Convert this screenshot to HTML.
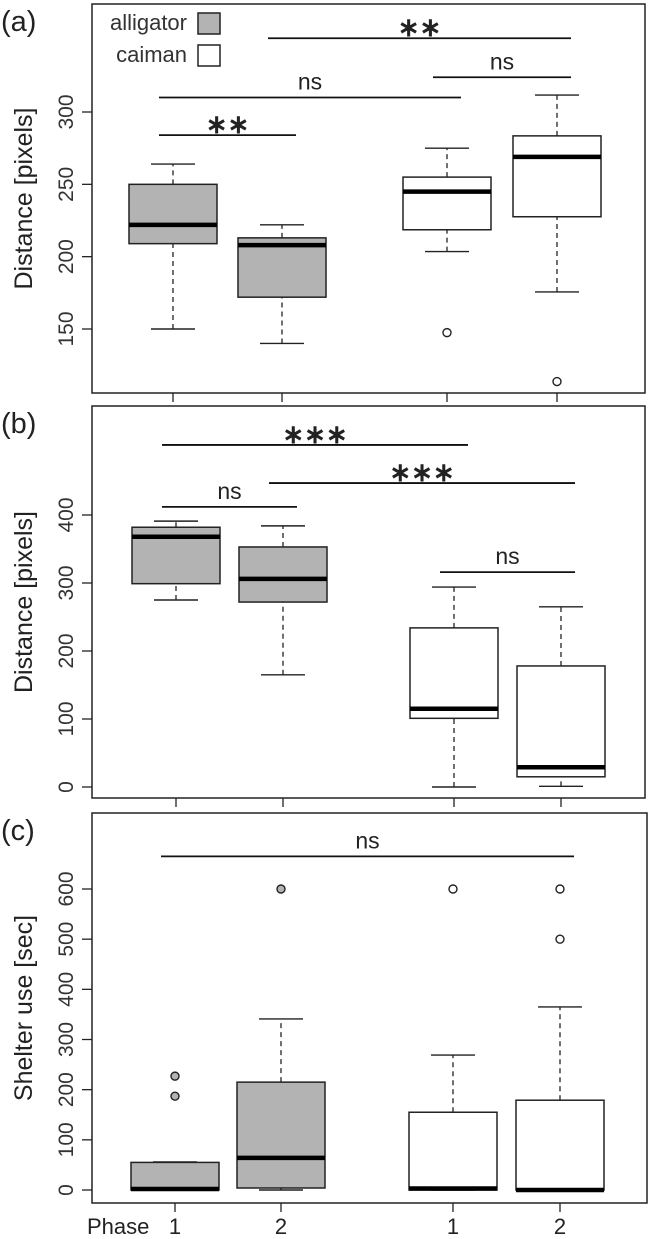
<!DOCTYPE html>
<html><head><meta charset="utf-8"><style>
html,body{margin:0;padding:0;background:#fff;}
svg{display:block;font-family:"Liberation Sans",Arial,sans-serif;}
</style></head><body>
<svg id="chart" width="649" height="1239" viewBox="0 0 649 1239" xmlns="http://www.w3.org/2000/svg"></svg>
<script>
const groupLabels = ["1","2","1","2"];
const groupFill = ["#b3b3b3","#b3b3b3","#ffffff","#ffffff"];
// panel a: [lowerWhisker, Q1, median, Q3, upperWhisker]
const statsA = [[150,209,222,250,264],[140,172,208,213,222],[203.5,218.6,245,255,275],[175.6,227.6,269,283.5,311.7]];
const outliersA = [[],[],[147.5],[113.7]];
const ticksA = [150,200,250,300];
const statsB = [[275,299,368,382,391],[165,272,306,353,384],[0,101,115,234,294],[1,15,29,178,265]];
const outliersB = [[],[],[],[]];
const ticksB = [0,100,200,300,400];
const statsC = [[0,0,2,55,56],[0,4,64,215,341],[0,0,3,155,269],[0,0,0,179,365]];
const outliersC = [[187,227],[600],[600],[600,500]];
const ticksC = [0,100,200,300,400,500,600];
// significance bars: [fromGroup, toGroup, value, label]
const sigA = [[1,3,351,"**"],[0,2,310,"ns"],[2,3,324,"ns"],[0,1,284,"**"]];
const sigB = [[0,2,503,"***"],[1,3,447,"***"],[0,1,412,"ns"],[2,3,316,"ns"]];
const sigC = [[0,3,665,"ns"]];

const NS="http://www.w3.org/2000/svg";
const svg=document.getElementById('chart');
function mk(tag,attrs,parent){const e=document.createElementNS(NS,tag);for(const k in attrs)e.setAttribute(k,attrs[k]);(parent||svg).appendChild(e);return e;}

const panels=[
 {id:"a",label:"(a)",top:4,bottom:393,v0:150,y0:329,v1:300,y1:112,stats:statsA,out:outliersA,ticks:ticksA,sig:sigA,cx:[173,282,447,557],title:"Distance [pixels]",legend:true,right:645},
 {id:"b",label:"(b)",top:406,bottom:798,v0:0,y0:787,v1:400,y1:515,stats:statsB,out:outliersB,ticks:ticksB,sig:sigB,cx:[176,283,454,561],title:"Distance [pixels]",right:645},
 {id:"c",label:"(c)",top:813,bottom:1203,v0:0,y0:1190,v1:600,y1:889,stats:statsC,out:outliersC,ticks:ticksC,sig:sigC,cx:[175,281,453,560],title:"Shelter use [sec]",phase:true,right:647}
];
const left=92, halfBox=44, halfCap=22;

panels.forEach(p=>{
  const g=mk('g',{});
  
  
  const y=v=>p.y0+(v-p.v0)*(p.y1-p.y0)/(p.v1-p.v0);
  const fr=mk('rect',{x:left,y:p.top,width:p.right-left,height:p.bottom-p.top,fill:'none',stroke:'#222','stroke-width':1.5},g);
  
  
  const pl=mk('text',{x:1,y:p.top+27,'font-size':29,fill:'#222'},g);pl.textContent=p.label;
  
  
  p.ticks.forEach(t=>{
    const ty=y(t);
    mk('line',{x1:left-10,x2:left,y1:ty,y2:ty,stroke:'#222','stroke-width':1.3},g);
    const tl=mk('text',{x:0,y:0,transform:`translate(73,${ty}) rotate(-90)`,'text-anchor':'middle','font-size':21,fill:'#333'},g);
    tl.textContent=t;
    
    
  });
  const yt=mk('text',{transform:`translate(32,${(p.top+p.bottom)/2}) rotate(-90)`,'text-anchor':'middle','font-size':25,fill:'#222'},g);
  yt.textContent=p.title;
  
  
  p.cx.forEach((cx,i)=>{
    mk('line',{x1:cx,x2:cx,y1:p.bottom,y2:p.bottom+9,stroke:'#222','stroke-width':1.3},g);
    if(p.phase){
      const xl=mk('text',{x:cx,y:1234,'text-anchor':'middle','font-size':22,fill:'#222'},g);
      xl.textContent=groupLabels[i];
      
      
    }
  });
  if(p.phase){const ph=mk('text',{x:87,y:1234,'font-size':22,fill:'#222'},g);ph.textContent="Phase";
    
    }
  p.stats.forEach((s,i)=>{
    const cx=p.cx[i];
    const bg=mk('g',{},g);
    
    
    mk('line',{x1:cx,x2:cx,y1:y(s[0]),y2:y(s[1]),stroke:'#222','stroke-width':1.3,'stroke-dasharray':'5,4'},bg);
    mk('line',{x1:cx,x2:cx,y1:y(s[3]),y2:y(s[4]),stroke:'#222','stroke-width':1.3,'stroke-dasharray':'5,4'},bg);
    mk('line',{x1:cx-halfCap,x2:cx+halfCap,y1:y(s[0]),y2:y(s[0]),stroke:'#222','stroke-width':1.4},bg);
    mk('line',{x1:cx-halfCap,x2:cx+halfCap,y1:y(s[4]),y2:y(s[4]),stroke:'#222','stroke-width':1.4},bg);
    mk('rect',{x:cx-halfBox,y:y(s[3]),width:2*halfBox,height:Math.max(0.5,y(s[1])-y(s[3])),fill:groupFill[i],stroke:'#222','stroke-width':1.5},bg);
    mk('line',{x1:cx-halfBox,x2:cx+halfBox,y1:y(s[2]),y2:y(s[2]),stroke:'#000','stroke-width':4.5},bg);
    p.out[i].forEach(o=>{
      const c=mk('circle',{cx:cx,cy:y(o),r:4,fill:groupFill[i],stroke:'#222','stroke-width':1.4},bg);
      
      
    });
  });
  p.sig.forEach(sg=>{
    const x1=p.cx[sg[0]]-14, x2=p.cx[sg[1]]+14, sy=y(sg[2]);
    const sgG=mk('g',{},g);
    
    
    mk('line',{x1:x1,x2:x2,y1:sy,y2:sy,stroke:'#111','stroke-width':1.8},sgG);
    const isNs=sg[3]==='ns';
    const st=mk('text',{x:(x1+x2)/2,y:sy-(isNs?8:2),'text-anchor':'middle','font-size':isNs?23:26,'font-weight':isNs?'normal':'bold',fill:'#222'},sgG);
    st.textContent=sg[3].replace(/\*/g,'∗');
  });
  if(p.legend){
    const lg=mk('g',{},g);
    
    
    const t1=mk('text',{x:187,y:30,'text-anchor':'end','font-size':22,fill:'#333'},lg);t1.textContent="alligator";
    mk('rect',{x:198,y:13,width:22,height:21,fill:'#b3b3b3',stroke:'#222','stroke-width':1.5},lg);
    const t2=mk('text',{x:187,y:62,'text-anchor':'end','font-size':22,fill:'#333'},lg);t2.textContent="caiman";
    mk('rect',{x:198,y:45,width:22,height:21,fill:'#fff',stroke:'#222','stroke-width':1.5},lg);
  }
});
</script>
</body></html>
